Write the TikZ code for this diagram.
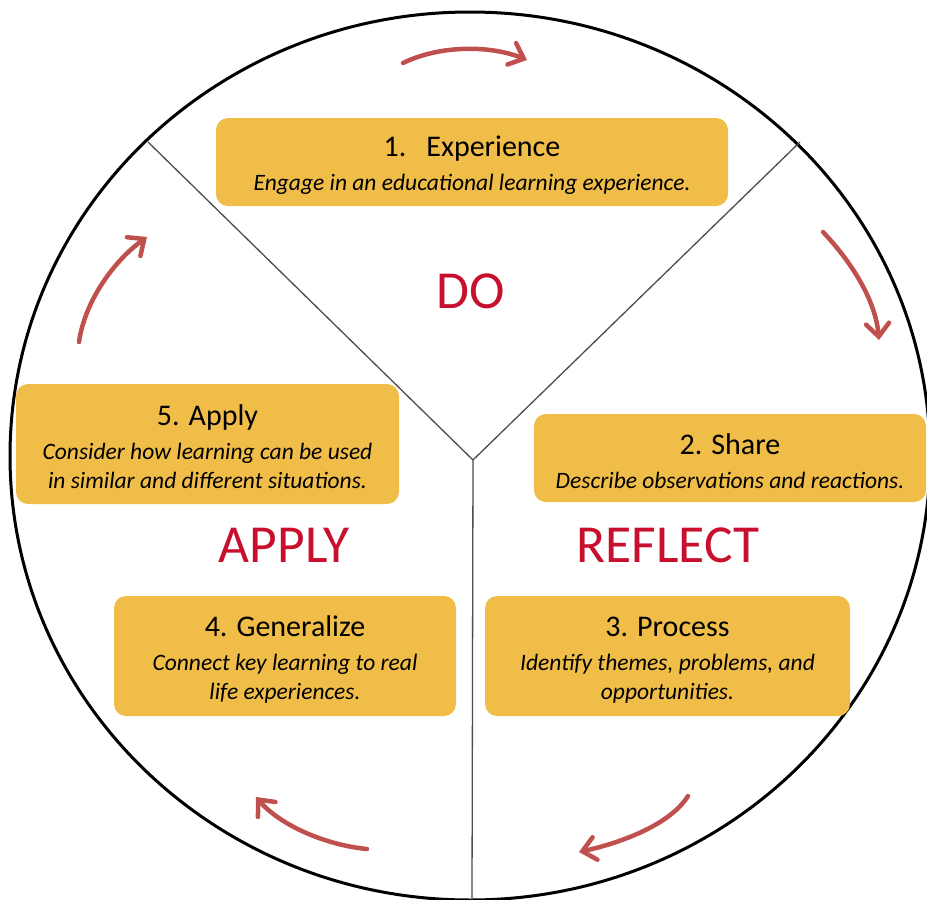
\documentclass[tikz,border=0pt]{standalone}
\usepackage{fontspec}
\setmainfont{Carlito}
\usetikzlibrary{arrows.meta}

\definecolor{boxyellow}{HTML}{F0BE48}
\definecolor{phasered}{HTML}{C8102E}
\definecolor{arrowred}{HTML}{C0504D}

% heading line of a stage box
\newcommand{\stagehead}[1]{{\upshape\fontsize{30}{34}\selectfont\rule{0pt}{27pt}#1}}

\begin{document}
\begin{tikzpicture}[x=1pt,y=-1pt,
	stage/.style={fill=boxyellow, rounded corners=12pt, align=center, inner sep=0pt,
		font=\fontsize{23.5}{29}\selectfont\itshape},
	phase/.style={text=phasered, font=\fontsize{53.5}{60}\selectfont},
	divider/.style={draw=black!70, line width=1.3pt},
	cycle/.style={draw=arrowred, line width=4.5pt, line cap=round,
		-{Straight Barb[length=13pt,width=23pt,line cap=round]}}]
	\useasboundingbox (0,0) rectangle (927,900);
	%\draw[help lines,step=50] (0,0) grid (927,900);

	% ring split into three sectors
	\draw[line width=3pt] (470,456) ellipse [x radius=460pt, y radius=444pt];
	\coordinate (hub) at (473,460);
	\coordinate (rimL) at (148,142);
	\coordinate (rimR) at (800,142);
	\coordinate (rimB) at (472,900);
	\draw[divider] (hub) -- (rimL);
	\draw[divider] (hub) -- (rimR);
	\draw[divider] (hub) -- (rimB);

	\node[phase] (Do) at (471,291) {DO};
	\node[phase] (ApplyPhase) at (284,545) {APPLY};
	\node[phase] (Reflect) at (668,545) {REFLECT};

	\node[stage, minimum width=512pt, minimum height=88pt] (Experience) at (472,162)
		{\stagehead{1.\hspace{20pt}Experience}\\[5pt]
		 Engage in an educational learning experience.};
	\node[stage, minimum width=392pt, minimum height=88pt] (Share) at (730,458)
		{\stagehead{2. Share}\\[5pt]
		 Describe observations and reactions.};
	\node[stage, minimum width=365pt, minimum height=120pt] (Process) at (667.5,656)
		{\stagehead{3. Process}\\[5pt]
		 Identify themes, problems, and\\ opportunities.};
	\node[stage, minimum width=342pt, minimum height=120pt] (Generalize) at (285,656)
		{\stagehead{4. Generalize}\\[5pt]
		 Connect key learning to real\\ life experiences.};
	\node[stage, minimum width=383pt, minimum height=120pt] (Apply) at (207.5,444)
		{\stagehead{5. Apply}\\[5pt]
		 Consider how learning can be used\\ in similar and different situations.};

	% arrows running clockwise round the ring
	\coordinate (t1) at (403,63);   \coordinate (t2) at (527,60);
	\coordinate (r1) at (823,232);  \coordinate (r2) at (879,340);
	\coordinate (br1) at (688,796); \coordinate (br2) at (579,852);
	\coordinate (bl1) at (367,849); \coordinate (bl2) at (256,797);
	\coordinate (l1) at (79,342);   \coordinate (l2) at (147,237);
	\draw[cycle] (t1) .. controls (440,45) and (490,45) .. (t2);
	\draw[cycle] (r1) .. controls (845,255) and (875,295) .. (r2);
	\draw[cycle] (br1) .. controls (670,825) and (620,843) .. (br2);
	\draw[cycle] (bl1) .. controls (325,845) and (280,825) .. (bl2);
	\draw[cycle] (l1) .. controls (85,300) and (115,260) .. (l2);
\end{tikzpicture}
\end{document}
